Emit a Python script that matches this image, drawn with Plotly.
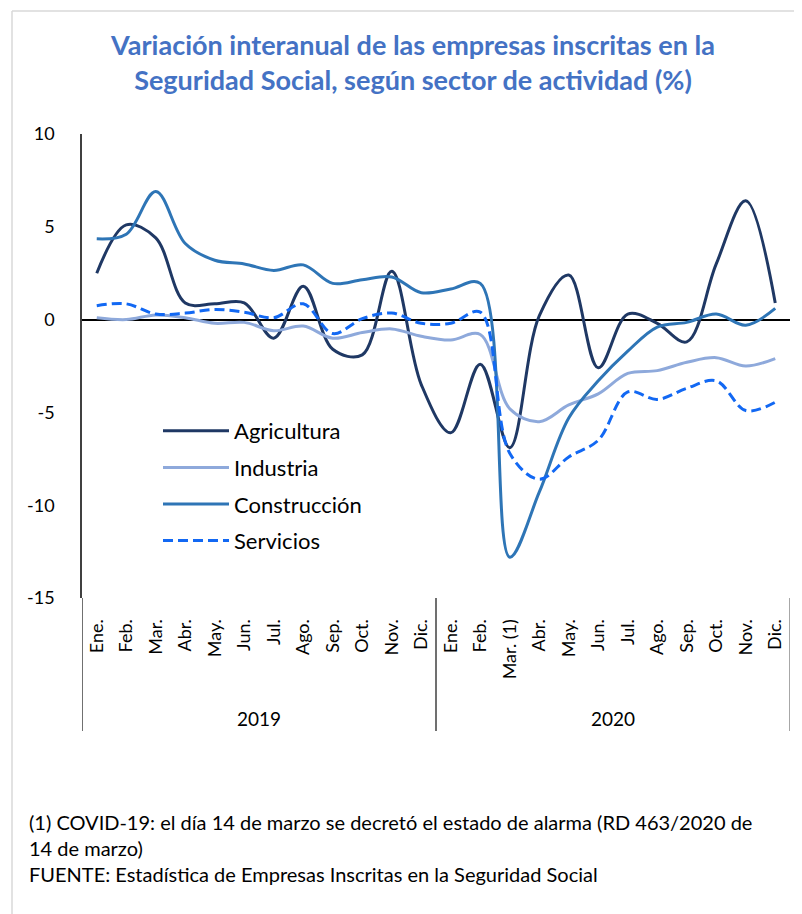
import plotly.graph_objects as go

months = ["Ene.", "Feb.", "Mar.", "Abr.", "May.", "Jun.", "Jul.", "Ago.", "Sep.", "Oct.", "Nov.", "Dic.",
          "Ene.", "Feb.", "Mar. (1)", "Abr.", "May.", "Jun.", "Jul.", "Ago.", "Sep.", "Oct.", "Nov.", "Dic."]
years = ["2019", "2020"]
x_idx = list(range(len(months)))

agricultura = [2.5, 5.1, 4.4, 0.9, 0.85, 0.9, -1.0, 1.8, -1.6, -1.9, 2.6, -3.5,
               -6.1, -2.4, -6.9, 0.2, 2.4, -2.6, 0.3, -0.2, -1.2, 3.0, 6.4, 0.9]
industria = [0.1, 0.0, 0.25, 0.1, -0.2, -0.15, -0.6, -0.35, -1.0, -0.7, -0.5, -0.9,
             -1.1, -0.8, -4.8, -5.5, -4.6, -4.0, -2.9, -2.75, -2.3, -2.05, -2.5, -2.1]
construccion = [4.35, 4.6, 6.9, 4.1, 3.2, 3.0, 2.65, 2.95, 1.95, 2.15, 2.3, 1.45,
                1.65, 1.95, -12.8, -9.3, -5.3, -3.3, -1.7, -0.4, -0.15, 0.3, -0.3, 0.6]
servicios = [0.75, 0.85, 0.3, 0.35, 0.55, 0.4, 0.1, 0.85, -0.75, 0.05, 0.35, -0.2,
             -0.2, 0.4, -7.2, -8.6, -7.4, -6.5, -3.9, -4.3, -3.7, -3.3, -4.9, -4.45]

y_ticks = [10, 5, 0, -5, -10, -15]

FONT = "Lato"
W, H = 802, 914
OFF = 8  # page body margin; reference pixel coords are shifted by this
L, T = 82 - OFF, 134 - OFF
R = W - (790 - OFF)
B = H - (598 - OFF)
PW, PH = W - L - R, H - T - B


def px_x(px):
    return (px - OFF - L) / PW


def px_y(py):
    return (H - B - (py - OFF)) / PH


fig = go.Figure()
series = [
    ("Agricultura", agricultura, "#1F3864", "solid"),
    ("Industria", industria, "#8EA9DB", "solid"),
    ("Construcción", construccion, "#2E75B6", "solid"),
    ("Servicios", servicios, "#1268F3", "10px,5px"),
]
for name, vals, col, dash in series:
    fig.add_trace(go.Scatter(
        x=x_idx, y=vals, name=name, mode="lines",
        line=dict(color=col, width=3, dash=dash, shape="spline", smoothing=1.0),
        legendgroup=name,
    ))

fig.update_layout(
    width=W, height=H,
    margin=dict(l=L, r=R, t=T, b=B),
    paper_bgcolor="white", plot_bgcolor="white",
    font=dict(family=FONT, color="#000000"),
    title=dict(
        text="<b>Variación interanual de las empresas inscritas en la<br>Seguridad Social, según sector de actividad (%)</b>",
        x=(413 - OFF) / W, xanchor="center", xref="container",
        y=1 - (55 - OFF) / H, yanchor="middle", yref="container",
        font=dict(family=FONT, size=27, color="#4472C4"),
    ),
    showlegend=True,
    legend=dict(
        x=px_x(158), y=px_y(410), xanchor="left", yanchor="top",
        font=dict(family=FONT, size=22, color="#000000"),
        bgcolor="rgba(0,0,0,0)", tracegroupgap=5,
        itemwidth=66,
    ),
    xaxis=dict(
        range=[-0.5, len(months) - 0.5],
        tickmode="array", tickvals=x_idx, ticktext=months,
        tickangle=-90, tickfont=dict(family=FONT, size=18, color="#000000"),
        showgrid=False, zeroline=False, showline=False,
        ticks="outside", ticklen=13, tickcolor="rgba(0,0,0,0)",
        fixedrange=True,
    ),
    yaxis=dict(
        range=[-15, 10],
        tickmode="array", tickvals=y_ticks, ticktext=[str(v) for v in y_ticks],
        tickfont=dict(family=FONT, size=18, color="#000000"),
        ticks="outside", ticklen=22, tickcolor="rgba(0,0,0,0)",
        showgrid=False, zeroline=True, zerolinecolor="#000000", zerolinewidth=1.5,
        showline=True, linecolor="#404040", linewidth=1.5,
        fixedrange=True,
    ),
)

# category group dividers (multi-level axis)
ybot = px_y(731)
for xv, col in [(-0.5, "#404040"), (11.5, "#404040"), (len(months) - 0.5, "#8a8a8a")]:
    fig.add_shape(type="line", xref="x", yref="paper", x0=xv, x1=xv, y0=0, y1=ybot,
                  line=dict(color=col, width=1.5))

# year labels
for i, yr in enumerate(years):
    fig.add_annotation(x=5.5 + 12 * i, y=px_y(718), xref="x", yref="paper", text=yr,
                       showarrow=False, font=dict(family=FONT, size=19, color="#000000"),
                       xanchor="center", yanchor="middle")

# outer light frame
fig.add_shape(type="line", xref="paper", yref="paper", x0=px_x(12), x1=px_x(12),
              y0=px_y(11), y1=px_y(930), line=dict(color="#d9d9d9", width=1.5))
fig.add_shape(type="line", xref="paper", yref="paper", x0=px_x(12), x1=px_x(820),
              y0=px_y(11), y1=px_y(11), line=dict(color="#d9d9d9", width=1.5))

notes = [
    ("(1) COVID-19: el día 14 de marzo se decretó el estado de alarma (RD 463/2020 de", 822),
    ("14 de marzo)", 848),
    ("FUENTE: Estadística de Empresas Inscritas en la Seguridad Social", 874),
]
for txt, yy in notes:
    fig.add_annotation(x=px_x(27), y=px_y(yy), xref="paper", yref="paper", text=txt,
                       showarrow=False, xanchor="left", yanchor="middle",
                       font=dict(family=FONT, size=20, color="#000000"))

fig.write_html("out.html")
